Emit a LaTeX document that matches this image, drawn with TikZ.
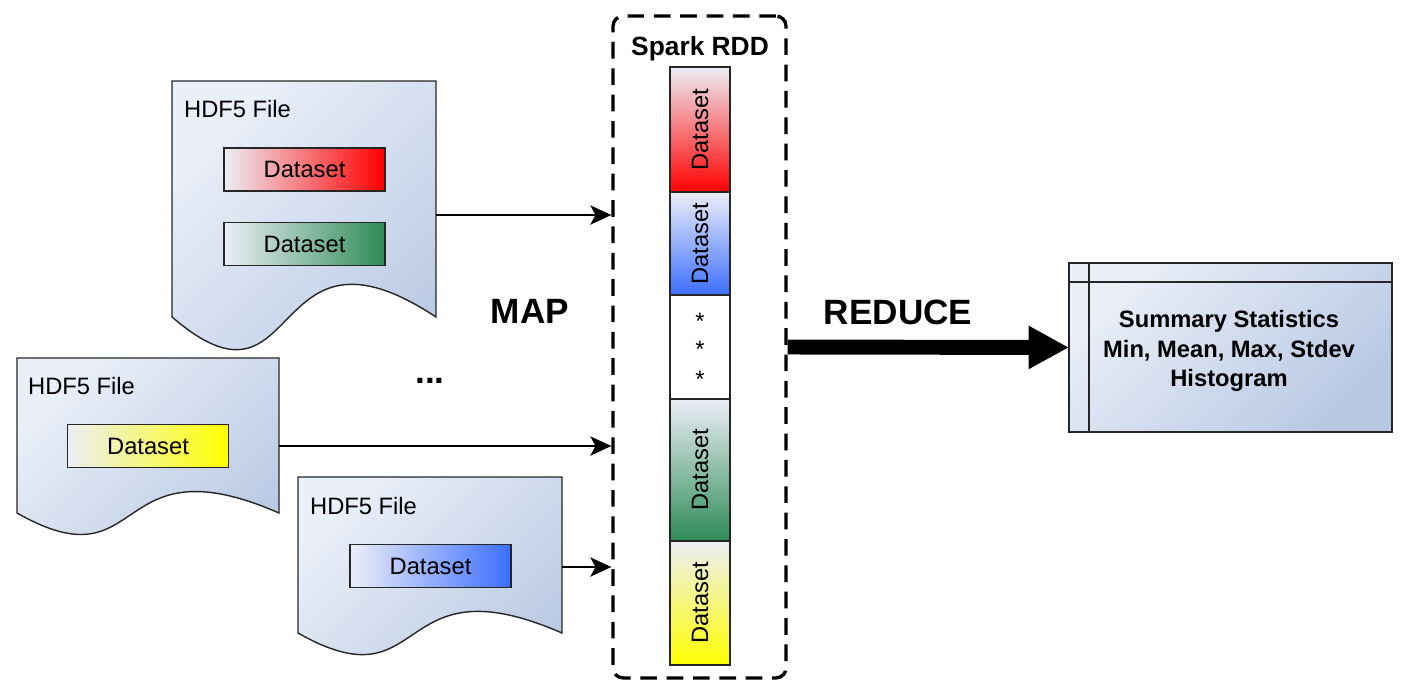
\documentclass[tikz,border=0pt]{standalone}
\usepackage{fontspec}
\setmainfont{Liberation Sans}
\usetikzlibrary{arrows.meta}

\definecolor{docA}{RGB}{234,239,248}
\definecolor{docB}{RGB}{184,200,227}
\definecolor{paleA}{RGB}{236,238,246}
\definecolor{dsred}{RGB}{255,0,0}
\definecolor{dsgreen}{RGB}{46,139,87}
\definecolor{dsyellow}{RGB}{255,255,0}
\definecolor{dsblue}{RGB}{60,110,255}

\tikzset{
  docfill/.style={draw=black!85, line width=0.8pt, top color=docA,
    bottom color=docB, shading angle=45},
  dsbox/.style={draw=black!85, line width=0.8pt, minimum width=3.22cm,
    minimum height=0.86cm, inner sep=0pt, left color=paleA, right color=#1},
  rddbox/.style={draw, line width=1.9pt, dash pattern=on 9.5pt off 5.5pt,
    rounded corners=0.2cm, minimum width=3.46cm, minimum height=13.24cm},
  flow/.style={-{Stealth[length=12pt,width=11pt,inset=3pt]}, line width=0.85pt},
  reduce/.style={-{Triangle[length=23pt,width=23pt]}, line width=8.5pt},
  biglabel/.style={font=\fontsize{20}{24}\selectfont\bfseries},
}

% document shape with a wavy bottom: left, top, right, bottom
\newcommand{\hdffile}[4]{%
  \path[docfill] (#1,#2) -- (#3,#2) -- (#3,#4)
    .. controls ({#1+0.35*(#3-#1)},{#4-0.48*(#4-#2)})
           and ({#1+0.5*(#3-#1)},{#4+0.48*(#4-#2)}) .. (#1,#4) -- cycle;
}

\begin{document}
\begin{tikzpicture}[x=0.02cm, y=-0.02cm, font=\fontsize{13.5}{16}\selectfont]
    \useasboundingbox (0,0) rectangle (1408,694);

    % HDF5 files
    \hdffile{172}{81}{436}{317}
    \hdffile{17}{358}{279}{513}
    \hdffile{298}{477}{562}{633}

    \node[anchor=west] (file1) at (178,109) {HDF5 File};
    \node[anchor=west] (file2) at (22,386) {HDF5 File};
    \node[anchor=west] (file3) at (304,506) {HDF5 File};

    \node[dsbox=dsred] (ds1) at (304.5,169.5) {Dataset};
    \node[dsbox=dsgreen] (ds2) at (304.5,244) {Dataset};
    \node[dsbox=dsyellow] (ds3) at (148,446) {Dataset};
    \node[dsbox=dsblue] (ds4) at (430.5,566) {Dataset};

    % Spark RDD
    \node[rddbox] (rdd) at (699.5,347) {};
    \node[font=\fontsize{15}{18}\selectfont\bfseries, anchor=base]
        (rddtitle) at (700,55) {Spark RDD};

    % partitions
    \foreach \i/\yt/\yb/\col in {1/67/192/dsred, 2/192/295/dsblue,
        4/399/541/dsgreen, 5/541/665/dsyellow}{
        \path[draw=black!85, line width=0.8pt, top color=paleA,
            bottom color=\col] (670,\yt) rectangle (730,\yb);
        \node[rotate=90] (part\i) at (700,{(\yt+\yb)/2}) {Dataset};
    }
    \draw[line width=0.8pt, draw=black!85, fill=white]
        (670,295) rectangle (730,399);
    \foreach \y in {329,357,387}
        \node[anchor=base] (star\y) at (700,\y) {*};

    % map arrows
    \coordinate (f1out) at (436,215);
    \coordinate (f2out) at (279,446);
    \coordinate (f3out) at (562,567);
    \foreach \f in {f1out,f2out,f3out}
        \draw[flow] (\f) -- (rdd.west |- \f);

    % labels
    \node[biglabel] (map) at (530,311) {MAP};
    \node[biglabel, anchor=base] (dots) at (430,383) {...};
    \node[biglabel] (reducelbl) at (898,312) {REDUCE};

    % summary
    \node[draw=black!85, line width=0.8pt, outer sep=0pt, top color=docA,
        bottom color=docB, shading angle=45, minimum width=6.46cm,
        minimum height=3.38cm] (summary) at (1230.5,347.5) {};
    \draw[line width=0.8pt, black!85]
        ([xshift=0.4cm]summary.north west) -- ([xshift=0.4cm]summary.south west);
    \draw[line width=0.8pt, black!85]
        ([yshift=-0.38cm]summary.north west) -- ([yshift=-0.38cm]summary.north east);
    \node[align=center, font=\fontsize{13.5}{17}\selectfont\bfseries]
        (sumtext) at (1229,351)
        {Summary Statistics\\Min, Mean, Max, Stdev\\Histogram};

    % reduce
    \draw[reduce] (rdd.east) -- (summary.west);
\end{tikzpicture}
\end{document}
